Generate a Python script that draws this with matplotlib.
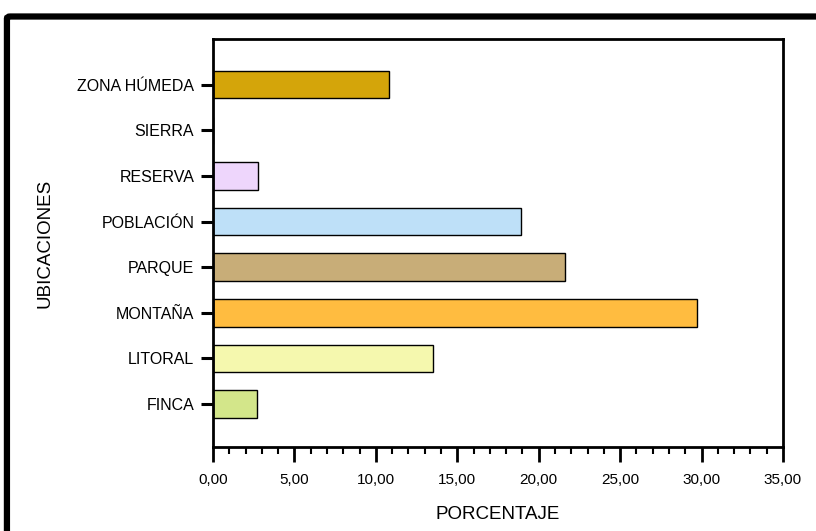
#! /usr/bin/env python
"""Horizontal bar chart of percentages by location."""

import matplotlib.pyplot as plt
from matplotlib.patches import FancyBboxPatch
from matplotlib.ticker import MultipleLocator, FuncFormatter

plt.rcParams['font.family'] = ['Liberation Sans', 'DejaVu Sans']

categories = ["FINCA", "LITORAL", "MONTAÑA", "PARQUE", "POBLACIÓN",
              "RESERVA", "SIERRA", "ZONA HÚMEDA"]
values = [2.7, 13.5, 29.7, 21.6, 18.9, 2.75, 0.0, 10.8]
colors = ["#D3E68A", "#F5F8AE", "#FFBC40", "#C8AD78", "#BEE0F8",
          "#EED6FC", "#FFFFFF", "#D4A50A"]


def main():
    fig = plt.figure(figsize=(8.16, 5.31), dpi=100)
    ax = fig.add_axes([0.261, 0.1582, 0.6985, 0.7684])

    pos = range(len(categories))
    ax.barh(pos, values, height=0.6, color=colors,
            edgecolor="black", linewidth=1.0)

    ax.set_xlim(0, 35)
    ax.set_ylim(-0.94, 8.0)
    ax.set_yticks(list(pos))
    ax.set_yticklabels(categories, fontsize=11.5)

    ax.xaxis.set_major_locator(MultipleLocator(5))
    ax.xaxis.set_minor_locator(MultipleLocator(1))
    ax.xaxis.set_major_formatter(
        FuncFormatter(lambda v, p: f"{v:.2f}".replace(".", ",")))
    ax.tick_params(axis="x", which="major", length=11, width=2,
                   labelsize=11, pad=8)
    ax.tick_params(axis="x", which="minor", length=5, width=1.5)
    ax.tick_params(axis="y", length=9, width=2.2, pad=4.5)

    for side in ax.spines.values():
        side.set_linewidth(2)

    ax.set_xlabel("PORCENTAJE", fontsize=13.5, labelpad=13.5)
    ax.set_ylabel("UBICACIONES", fontsize=13.5)
    ax.yaxis.set_label_coords(-0.28, 0.5)

    # thick outer frame, cut off at right and bottom
    frame = FancyBboxPatch((0.0085, -0.2), 1.3, 0.2 + 1 - 16.5 / 531,
                           boxstyle="round,pad=0,rounding_size=0.004",
                           transform=fig.transFigure, fill=False,
                           edgecolor="black", linewidth=4.5,
                           clip_on=False)
    fig.patches.append(frame)

    fig.savefig("out.png", dpi=100)


if __name__ == '__main__':
    main()
